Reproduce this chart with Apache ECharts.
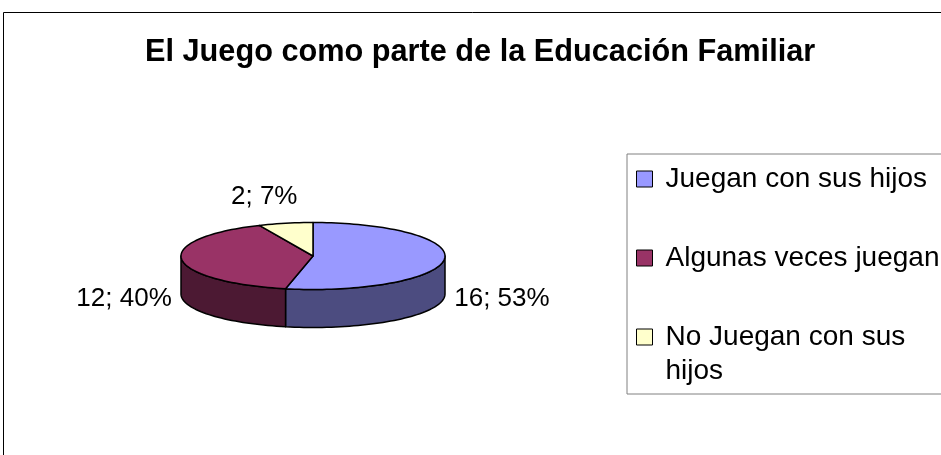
<!DOCTYPE html>
<html>
<head>
<meta charset="utf-8">
<script src="https://cdn.jsdelivr.net/npm/echarts@6/dist/echarts.min.js"></script>
<style>
  html, body { margin: 0; padding: 0; background: #fff; }
  #chart { width: 941px; height: 455px; }
</style>
</head>
<body>
<div id="chart"></div>
<script>
const categories = ['Juegan con sus hijos', 'Algunas veces juegan', 'No Juegan con sus hijos']
const values = [16, 12, 2]
const topColors = ['#9999FF', '#993366', '#FFFFCC']
const sideColors = ['#4C4C80', '#4C1933', '#808066']

// flattened 3d pie (excel style), angles clockwise from 12 o'clock
const pie = { cx: 313, cy: 256, rx: 132, ry: 33.5, depth: 38 }
const total = values.reduce((a, b) => a + b, 0)
const starts = []
values.reduce((acc, v, i) => { starts[i] = acc; return acc + v }, 0)

function pt(deg, dy) {
  const r = deg * Math.PI / 180
  return [pie.cx + pie.rx * Math.sin(r), pie.cy - pie.ry * Math.cos(r) + (dy || 0)]
}

function arc(a, b, dy) {
  const pts = []
  const n = Math.max(2, Math.ceil(Math.abs(b - a) / 2))
  for (let i = 0; i <= n; i++) pts.push(pt(a + (b - a) * i / n, dy))
  return pts
}

function renderSlice(idx) {
  return function (params, api) {
    const v = api.value(0)
    const start = api.value(1) / total * 360
    const end = (api.value(1) + v) / total * 360
    const children = []
    const line = { stroke: '#000', lineWidth: 1.5, lineJoin: 'round' }

    // only the front half of the wall is visible
    const a = Math.max(start, 90)
    const b = Math.min(end, 270)
    if (b > a) {
      children.push({
        type: 'polygon',
        z2: 1,
        shape: { points: arc(a, b, 0).concat(arc(b, a, pie.depth)) },
        style: Object.assign({ fill: sideColors[idx] }, line)
      })
    }
    children.push({
      type: 'polygon',
      z2: 2,
      shape: { points: [[pie.cx, pie.cy]].concat(arc(start, end, 0)) },
      style: Object.assign({ fill: topColors[idx] }, line)
    })

    const mid = (start + end) / 2 * Math.PI / 180
    const s = Math.sin(mid)
    const c = Math.cos(mid)
    children.push({
      type: 'text',
      z2: 3,
      x: pie.cx + (pie.rx + 10) * s + (Math.abs(s) < 0.5 ? 14 : 0),
      y: pie.cy - (pie.ry + 14) * c + (c < 0 ? pie.depth : 0),
      style: {
        text: v + '; ' + Math.round(v / total * 100) + '%',
        fontFamily: 'Liberation Sans',
        fontSize: 26,
        fill: '#000',
        align: s > 0 ? 'left' : 'right',
        verticalAlign: Math.abs(c) > 0.5 ? (c > 0 ? 'bottom' : 'top') : 'middle'
      }
    })
    return { type: 'group', children: children }
  }
}

// long names wrap onto a second line; the icon stays beside the first line
function legendText(name) {
  if (name.length <= 21) return '{a|' + name + '}'
  const cut = name.lastIndexOf(' ')
  return '{a|' + name.slice(0, cut) + '}\n{b|' + name.slice(cut + 1) + '}'
}

const chart = echarts.init(document.getElementById('chart'))
chart.setOption({
  backgroundColor: '#fff',
  animation: false,
  title: {
    text: 'El Juego como parte de la Educación Familiar',
    left: 145,
    top: 37,
    padding: 0,
    textStyle: { fontFamily: 'Liberation Sans', fontSize: 30.7, fontWeight: 'bold', color: '#000' }
  },
  legend: {
    data: categories,
    orient: 'vertical',
    left: 627,
    top: 154,
    padding: [8, 30, 9, 9],
    itemGap: 45,
    itemWidth: 16,
    itemHeight: 16,
    icon: 'rect',
    borderColor: '#808080',
    borderWidth: 1,
    itemStyle: { borderColor: '#000', borderWidth: 1 },
    formatter: legendText,
    textStyle: {
      fontFamily: 'Liberation Sans',
      fontSize: 28,
      lineHeight: 34,
      color: '#000',
      padding: [0, 0, 0, 8],
      rich: {
        a: { fontFamily: 'Liberation Sans', fontSize: 28, lineHeight: 34, color: '#000' },
        b: { fontFamily: 'Liberation Sans', fontSize: 28, lineHeight: 0, padding: [34, 0, 0, 0], color: '#000' }
      }
    }
  },
  graphic: [{
    type: 'rect',
    shape: { x: 3.5, y: 12.5, width: 1000, height: 500 },
    style: { fill: 'none', stroke: '#000', lineWidth: 1 },
    z: -1
  }],
  series: categories.map((name, i) => ({
    type: 'custom',
    name: name,
    coordinateSystem: 'none',
    silent: true,
    itemStyle: { color: topColors[i] },
    renderItem: renderSlice(i),
    data: [[values[i], starts[i]]]
  }))
})
</script>
</body>
</html>
